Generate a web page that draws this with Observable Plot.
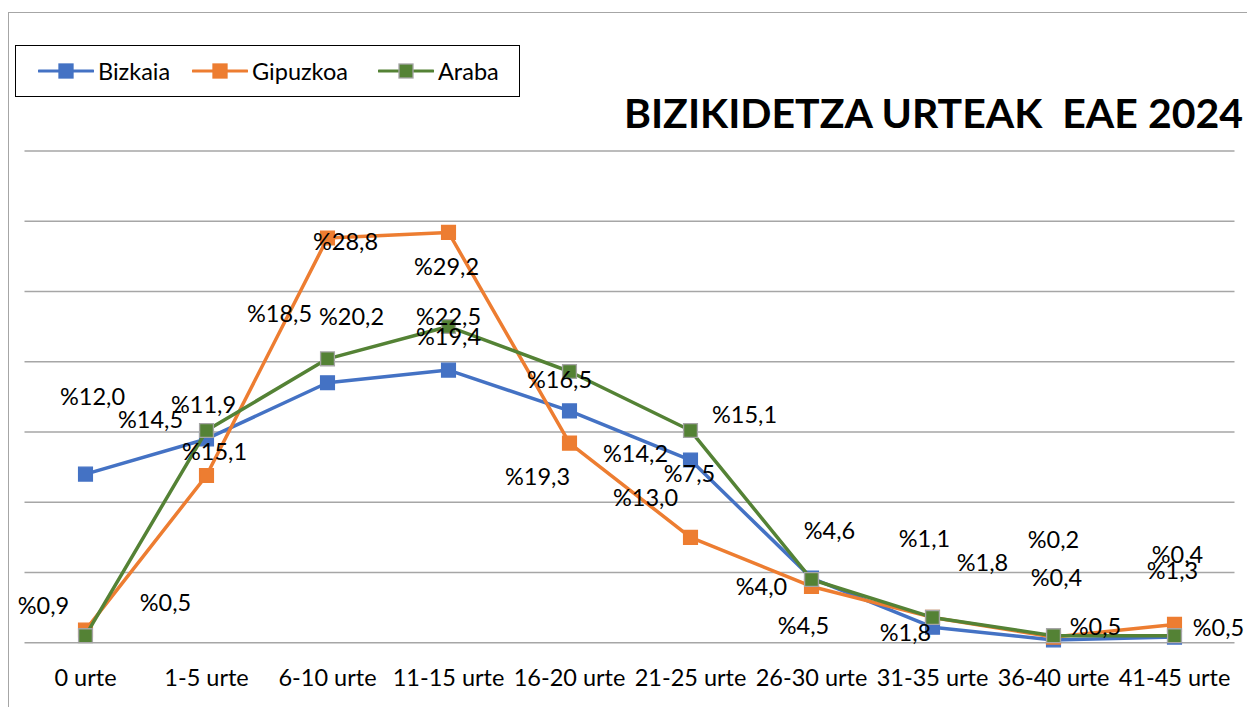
<!DOCTYPE html>
<html>
<head>
<meta charset="utf-8">
<script src="https://cdn.jsdelivr.net/npm/d3@7"></script>
<script src="https://cdn.jsdelivr.net/npm/@observablehq/plot@0.6"></script>
<style>
  html, body { margin: 0; padding: 0; background: #fff; }
  #wrap { position: relative; width: 1247px; height: 707px; overflow: hidden; font-family: Lato, "Liberation Sans", sans-serif; }
  #border { position: absolute; left: 8px; top: 12px; width: 1300px; height: 800px; border-left: 1.5px solid #a6a6a6; border-top: 1.5px solid #a6a6a6; }
  #title { position: absolute; right: 4px; top: 88px; font-size: 41px; font-weight: 700; white-space: pre; color: #000; line-height: 50px; }
  #legend { position: absolute; left: 15px; top: 45px; width: 503px; height: 50px; border: 1.5px solid #000; }
  .item { position: absolute; top: 0; height: 50px; display: flex; align-items: center; font-size: 23.5px; color: #000; }
  .item svg { margin-right: 4px; }
  #chart { position: absolute; left: 0; top: 0; }
</style>
</head>
<body>
<div id="wrap">
  <div id="border"></div>
  <div id="chart"></div>
  <div id="legend"></div>
  <div id="title"></div>
</div>
<script>
const categories = ["0 urte", "1-5 urte", "6-10 urte", "11-15 urte", "16-20 urte", "21-25 urte", "26-30 urte", "31-35 urte", "36-40 urte", "41-45 urte"];
const seriesNames = ["Bizkaia", "Gipuzkoa", "Araba"];
const bizkaia = [12.0, 14.5, 18.5, 19.4, 16.5, 13.0, 4.6, 1.1, 0.2, 0.4];
const gipuzkoa = [0.9, 11.9, 28.8, 29.2, 14.2, 7.5, 4.0, 1.8, 0.4, 1.3];
const araba = [0.5, 15.1, 20.2, 22.5, 19.3, 15.1, 4.5, 1.8, 0.5, 0.5];
const yTicks = [0, 5, 10, 15, 20, 25, 30, 35];
const titleText = "BIZIKIDETZA URTEAK  EAE 2024";

// label pixel offsets from their point (as placed in the original chart)
const bizkaiaLabelDx = [7, -56, -48, 0, -10, -45, 18, -8, 0, 3];
const bizkaiaLabelDy = [-77, -18, -68, -33, -30, 38, -47, -88, -99, -82];
const gipuzkoaLabelDx = [-42, -3, 18, -2, 66, -1, -50, 50, 3, -2];
const gipuzkoaLabelDy = [-24, -70, 4, 35, 11, -63, 1, -54, -59, -53];
const arabaLabelDx = [80, 8, 24, 0, -32, 54, -8, -27, 42, 44];
const arabaLabelDy = [-32, 22, -41, -9, 106, -15, 47, 16, -8, -7];

const colors = {Bizkaia: "#4472C4", Gipuzkoa: "#ED7D31", Araba: "#548235"};
const markerStroke = {Bizkaia: "#4472C4", Gipuzkoa: "#ED7D31", Araba: "#A5A5A5"};

const valuesBy = {Bizkaia: bizkaia, Gipuzkoa: gipuzkoa, Araba: araba};
const dxBy = {Bizkaia: bizkaiaLabelDx, Gipuzkoa: gipuzkoaLabelDx, Araba: arabaLabelDx};
const dyBy = {Bizkaia: bizkaiaLabelDy, Gipuzkoa: gipuzkoaLabelDy, Araba: arabaLabelDy};

const fmt = v => "%" + v.toFixed(1).replace(".", ",");

const marks = [
  Plot.ruleY(yTicks, {stroke: "#a6a6a6", strokeWidth: 1.5}),
  Plot.axisX({tickSize: 0, tickPadding: 27, fontSize: 23.5, fill: "#000", label: null})
];
const labelMarks = [];
for (const s of seriesNames) {
  const rows = categories.map((c, i) => ({series: s, cat: c, value: valuesBy[s][i], i}));
  marks.push(Plot.lineY(rows, {x: "cat", y: "value", stroke: colors[s], strokeWidth: 3.5, strokeLinejoin: "round"}));
  marks.push(Plot.dot(rows, {x: "cat", y: "value", symbol: "square", r: 7.8, fill: colors[s], stroke: markerStroke[s], strokeWidth: 1.3}));
  rows.forEach(r => {
    labelMarks.push(Plot.text([r], {x: "cat", y: "value", text: d => fmt(d.value), dx: dxBy[s][r.i], dy: dyBy[s][r.i], fontSize: 23.5, fill: "#000"}));
  });
}

const chart = Plot.plot({
  width: 1247,
  height: 707,
  marginLeft: 24.5,
  marginRight: 12.5,
  marginTop: 150.4,
  marginBottom: 64.8,
  style: {fontFamily: "Lato, 'Liberation Sans', sans-serif", fontSize: "23.5px", color: "#000", background: "transparent"},
  x: {type: "point", domain: categories, padding: 0.5, label: null},
  y: {domain: [0, 35], axis: null},
  marks: [...marks, ...labelMarks]
});
document.getElementById("chart").appendChild(chart);

document.getElementById("title").textContent = titleText;

// legend
const legend = document.getElementById("legend");
const legendX = [22, 176, 362];
seriesNames.forEach((s, i) => {
  const item = document.createElement("div");
  item.className = "item";
  item.style.left = legendX[i] + "px";
  item.innerHTML = `<svg width="56" height="16"><line x1="1" y1="8" x2="55" y2="8" stroke="${colors[s]}" stroke-width="3.2" stroke-linecap="round"/><rect x="21" y="1" width="14" height="14" fill="${colors[s]}" stroke="${markerStroke[s]}" stroke-width="1.3"/></svg><span>${s}</span>`;
  legend.appendChild(item);
});
</script>
</body>
</html>
